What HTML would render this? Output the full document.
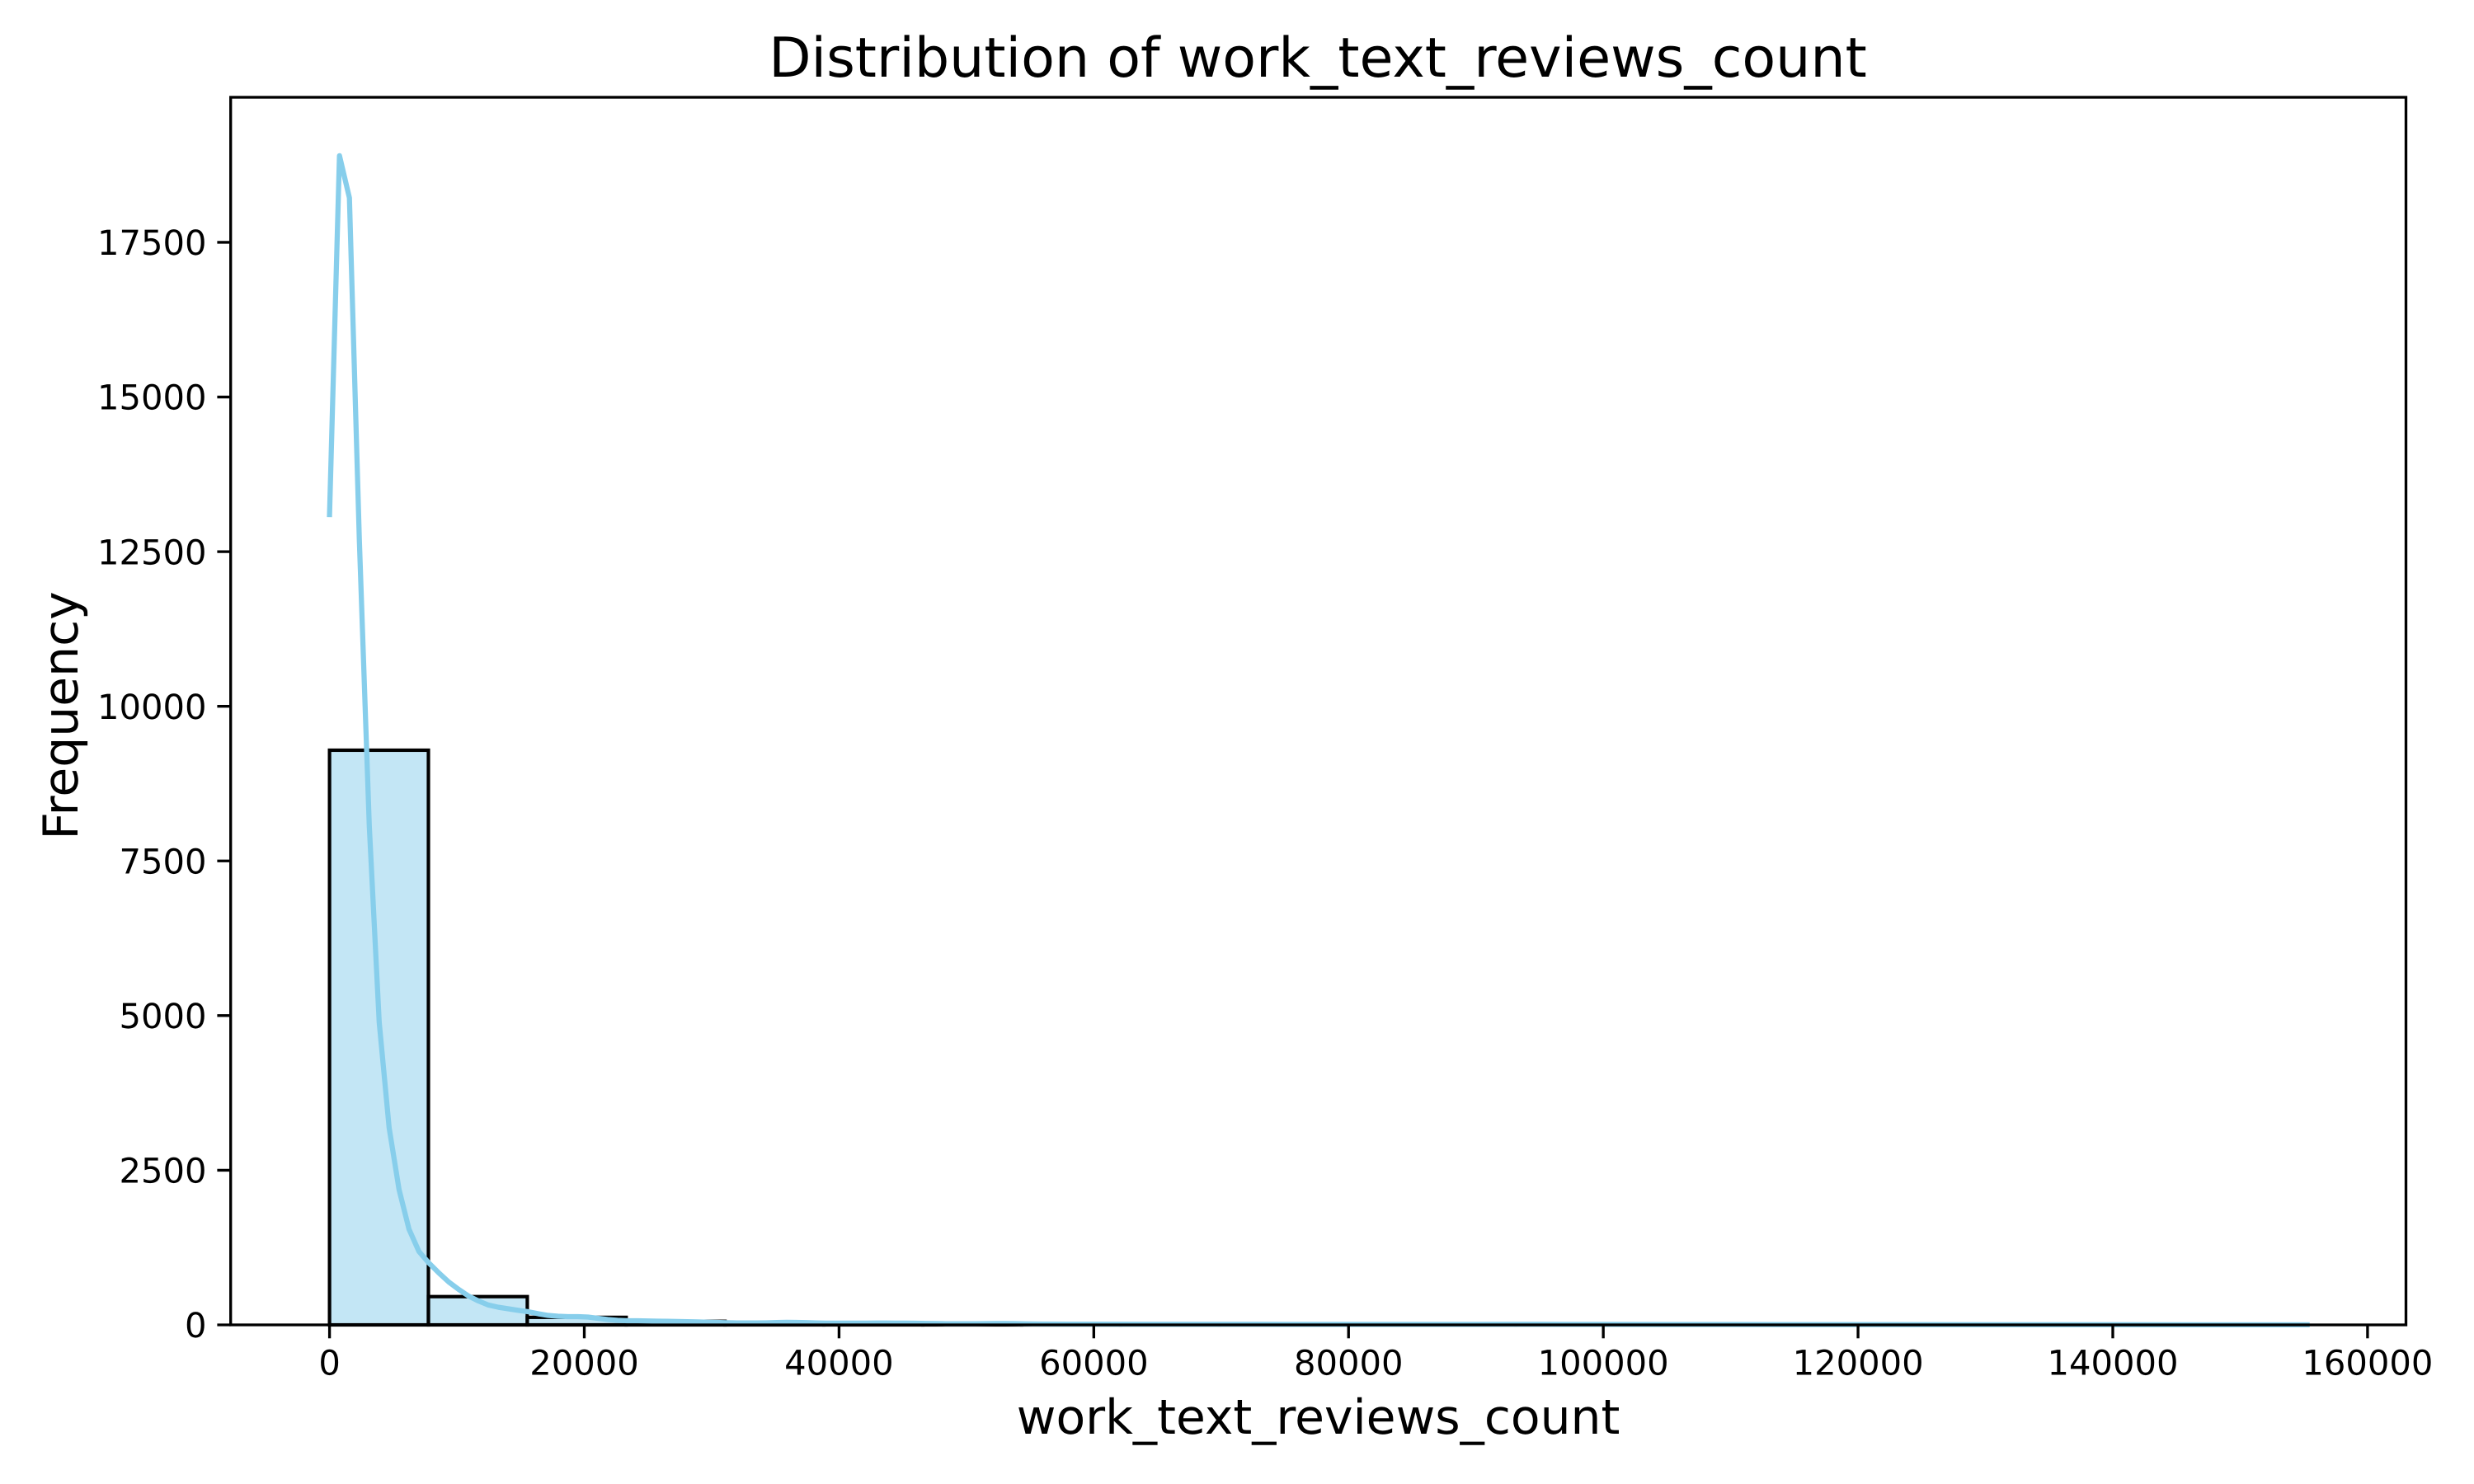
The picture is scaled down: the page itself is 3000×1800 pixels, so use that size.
<!DOCTYPE html>
<html lang="en">
<head>
<meta charset="utf-8">
<title>Distribution of work_text_reviews_count</title>
<style>
html,body{margin:0;padding:0;background:#fff;}
svg{display:block;}
text{font-family:"DejaVu Sans","Liberation Sans",sans-serif;fill:#000;text-rendering:geometricPrecision;}
</style>
</head>
<body>
<svg id="chart" xmlns="http://www.w3.org/2000/svg" width="3000" height="1800" viewBox="0 0 3000 1800">
  <rect x="0" y="0" width="3000" height="1800" fill="#ffffff"/>
  <g id="bars"></g>
  <g id="kde"></g>
  <g id="ticks"></g>
  <g id="spines"></g>
  <text x="1598" y="93" font-size="66.67" text-anchor="middle">Distribution of work_text_reviews_count</text>
  <text x="1598.6" y="1739" font-size="58.33" text-anchor="middle">work_text_reviews_count</text>
  <text transform="translate(94 868) rotate(-90)" x="0" y="0" font-size="58.33" text-anchor="middle">Frequency</text>
</svg>
<script>
// ---- chart data ----
const binEdgeMin = 0;
const binEdgeMax = 155254;
const binCounts = [9290, 457, 122, 58, 22, 14, 9, 6, 5, 3, 3, 2, 2, 1, 1, 1, 1, 1, 1, 1];
const kdeX = [0,780,1560,2340,3120,3900,4680,5460,6240,7020,7800,8580,9360,10140,10920,11700,12480,13260,14040,14820,15600,16380,17160,17940,18720,19500,20280,21060,21840,22620,23400,24180,24960,25740,26520,27300,28080,28860,29640,30420,31200,31980,32760,33540,34320,35100,35880,36660,37440,38220,39000,39780,40560,41340,42120,42900,43680,44460,45240,46020,46800,47580,48360,49140,49920,50700,51480,52260,53040,53820,54600,56000,58000,60000,65000,70000,75000,80000,85000,90000,93000,95000,97000,100000,105000,110000,120000,130000,140000,150000,155254];
const kdeY = [13100,18900,18220,12690,8070,4890,3185,2186,1546,1186,1000,840,693,573,466,386,320,285,260,235,213,180,153,140,133,133,127,107,87,73,67,67,63,60,58,55,52,48,44,40,35,32,32,32,34,38,42,40,36,32,29,28,28,29,29,30,30,29,28,26,24,22,19,18,18,19,20,22,22,20,17,14,12,11,10,10,9,9,8,9,10,10,9,8,7,6,5,4,3,2,1];
const xTickValues = [0,20000,40000,60000,80000,100000,120000,140000,160000];
const xTickLabels = ["0","20000","40000","60000","80000","100000","120000","140000","160000"];
const yTickValues = [0,2500,5000,7500,10000,12500,15000,17500];
const yTickLabels = ["0","2500","5000","7500","10000","12500","15000","17500"];

// ---- axis functions ----
const plotLeft = 279.7, plotRight = 2917.5, plotTop = 118, plotBottom = 1607;
const xMargin = (binEdgeMax - binEdgeMin) * 0.05;
const xDomainMin = binEdgeMin - xMargin, xDomainMax = binEdgeMax + xMargin;
const yDomainMax = Math.max.apply(null, kdeY) * 1.05;
function xScale(v){ return plotLeft + (v - xDomainMin) / (xDomainMax - xDomainMin) * (plotRight - plotLeft); }
function yScale(v){ return plotBottom - v / yDomainMax * (plotBottom - plotTop); }

const NS = "http://www.w3.org/2000/svg";
function make(tag, attrs, parent){
  const el = document.createElementNS(NS, tag);
  for (const k in attrs) el.setAttribute(k, attrs[k]);
  parent.appendChild(el);
  return el;
}

// ---- histogram bars ----
const barsLayer = document.getElementById("bars");
const binWidth = (binEdgeMax - binEdgeMin) / binCounts.length;
binCounts.forEach(function(count, i){
  const x0 = xScale(binEdgeMin + i * binWidth);
  const x1 = xScale(binEdgeMin + (i + 1) * binWidth);
  const fill = make("rect", {x:x0, y:yScale(count), width:x1-x0, height:yScale(0)-yScale(count), fill:"#87CEEB", "fill-opacity":0.5}, barsLayer);
  
  
  const edge = make("rect", {x:x0, y:yScale(count), width:x1-x0, height:yScale(0)-yScale(count), fill:"none", stroke:"#000", "stroke-width":4.17, "stroke-linejoin":"miter"}, barsLayer);
  
  
});

// ---- KDE curve ----
const kdeLayer = document.getElementById("kde");
const kdePoints = kdeX.map(function(x, i){ return xScale(x).toFixed(2) + "," + yScale(kdeY[i]).toFixed(2); }).join(" ");
const kdeLine = make("polyline", {points:kdePoints, fill:"none", stroke:"#87CEEB", "stroke-width":6.25, "stroke-linejoin":"round", "stroke-linecap":"square"}, kdeLayer);



// ---- ticks and labels ----
const tickLayer = document.getElementById("ticks");
xTickValues.forEach(function(v, i){
  const x = xScale(v);
  const tick = make("line", {x1:x, x2:x, y1:plotBottom, y2:plotBottom + 16.3, stroke:"#000", "stroke-width":3.33}, tickLayer);
  
  
  const label = make("text", {x:x, y:1667.5, "font-size":41.67, "text-anchor":"middle"}, tickLayer);
  label.textContent = xTickLabels[i];
  
  
});
yTickValues.forEach(function(v, i){
  const y = yScale(v);
  const tick = make("line", {x1:plotLeft - 16.3, x2:plotLeft, y1:y, y2:y, stroke:"#000", "stroke-width":3.33}, tickLayer);
  
  
  const label = make("text", {x:250.5, y:y + 15.2, "font-size":41.67, "text-anchor":"end"}, tickLayer);
  label.textContent = yTickLabels[i];
  
  
});

// ---- frame ----
const frame = make("rect", {x:plotLeft, y:plotTop, width:plotRight-plotLeft, height:plotBottom-plotTop, fill:"none", stroke:"#000", "stroke-width":3.33, "stroke-linejoin":"miter"}, document.getElementById("spines"));


</script>
</body>
</html>
